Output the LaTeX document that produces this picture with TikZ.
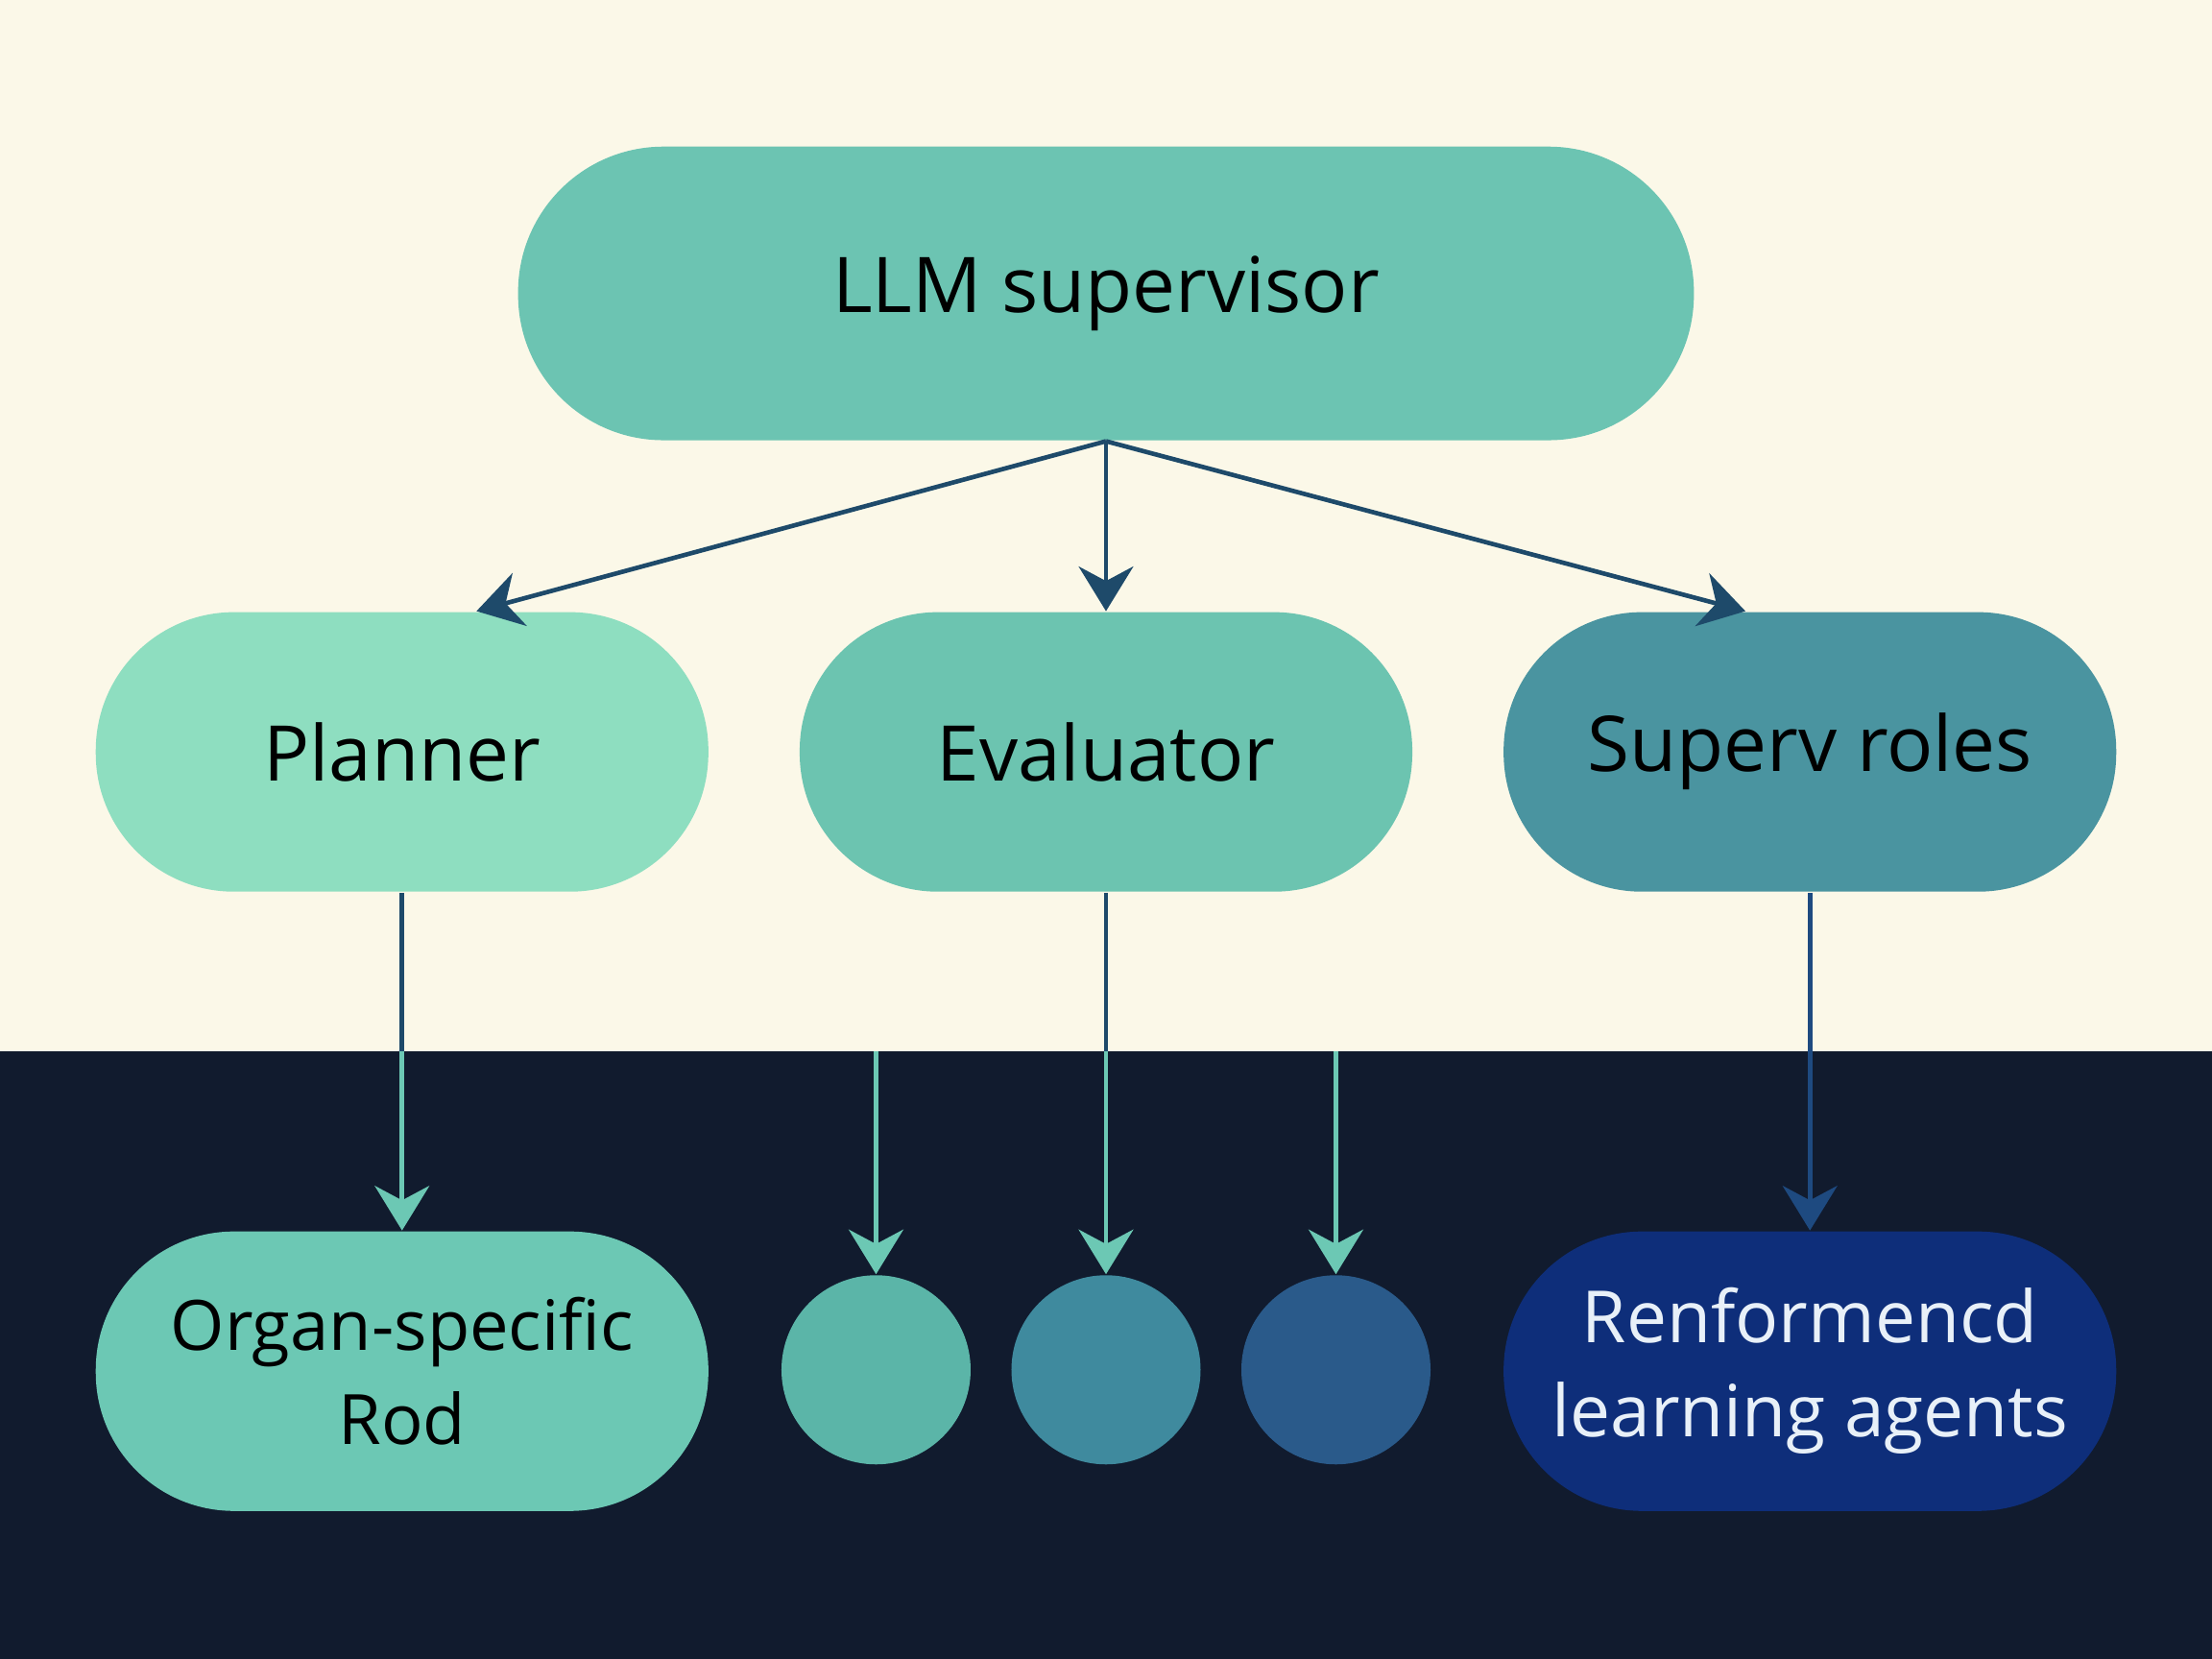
\documentclass[tikz,border=0pt]{standalone}
\usepackage{fontspec}
\setmainfont{Open Sans}
\usetikzlibrary{positioning}
\usetikzlibrary{arrows.meta}
\definecolor{cream}{HTML}{FBF8E8}
\definecolor{night}{HTML}{111B2E}
\definecolor{linknavy}{HTML}{1E4A6A}
\definecolor{linkteal}{HTML}{6CC8B4}
\definecolor{linkblue}{HTML}{1E4A80}
\tikzset{
    pill/.style={draw=none, rounded corners=0.98cm, minimum width=4.34cm,
        minimum height=1.98cm, align=center, font=\fontsize{15.5}{19}\selectfont},
    dot/.style={circle, draw=none, minimum size=1.34cm},
    link/.style={-{Stealth[length=9pt,width=11pt]}, line width=0.9pt},
}
\begin{document}
\begin{tikzpicture}[x=0.01cm,y=-0.01cm]
        \fill[cream] (0,0) rectangle (1568,745);
        \fill[night] (0,745) rectangle (1568,1176);
        \useasboundingbox (0,0) rectangle (1568,1176);

        \node[pill, fill={rgb,255:red,108;green,196;blue,178}, minimum width=8.33cm,
            minimum height=2.08cm, rounded corners=1.03cm] (supervisor) at (784,208) {LLM supervisor};
        \node[pill, fill={rgb,255:red,142;green,222;blue,192}] (planner) at (285,533) {Planner};
        \node[pill, fill={rgb,255:red,108;green,196;blue,176}] (evaluator) at (784,533) {Evaluator};
        \node[pill, fill={rgb,255:red,74;green,148;blue,160}] (roles) at (1283,533) {Superv roles};

        \node[pill, fill={rgb,255:red,108;green,200;blue,180}, font=\fontsize{14}{19}\selectfont] (organ) at (285,972) {Organ-specific\\Rod};
        \node[dot, fill={rgb,255:red,91;green,181;blue,168}] (dotA) at (621,971) {};
        \node[dot, fill={rgb,255:red,63;green,138;blue,158}] (dotB) at (784,971) {};
        \node[dot, fill={rgb,255:red,42;green,90;blue,138}] (dotC) at (947,971) {};
        \node[pill, fill={rgb,255:red,14;green,46;blue,122}, text={rgb,255:red,232;green,240;blue,248},
            font=\fontsize{14.5}{19}\selectfont] (agents) at (1283,972) {Renformencd\\learning agents};

        \coordinate (split) at (0,745);
        \coordinate (topA) at (621,745);
        \coordinate (topC) at (947,745);

        \draw[link, linknavy] (supervisor.south) -- ([xshift=15]planner.north);
        \draw[link, linknavy] (supervisor.south) -- (evaluator.north);
        \draw[link, linknavy] (supervisor.south) -- ([xshift=-13]roles.north);

        \draw[line width=0.9pt, linknavy] (planner.south) -- (planner.south |- split);
        \draw[link, linkteal] (planner.south |- split) -- (organ.north);
        \draw[line width=0.9pt, linknavy] (evaluator.south) -- (evaluator.south |- split);
        \draw[link, linkteal] (evaluator.south |- split) -- (dotB.north);
        \draw[link, linkteal] (topA) -- (dotA.north);
        \draw[link, linkteal] (topC) -- (dotC.north);
        \draw[link, linkblue] (roles.south) -- (agents.north);
\end{tikzpicture}
\end{document}
